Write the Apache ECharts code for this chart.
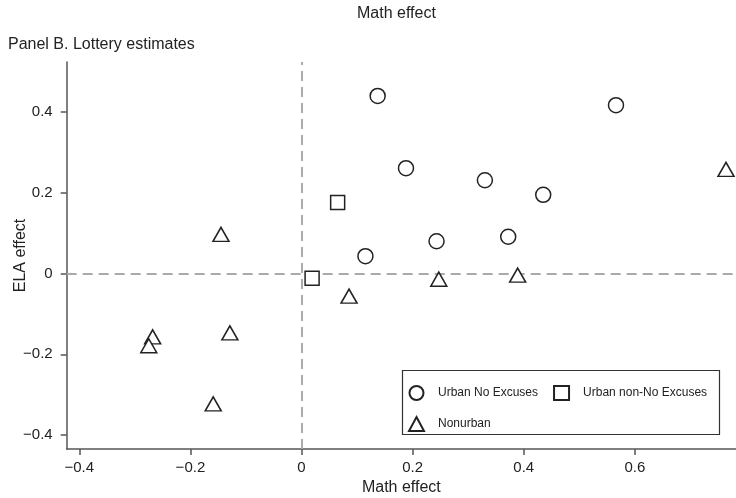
<!DOCTYPE html>
<html>
<head>
<meta charset="utf-8">
<script src="https://cdn.jsdelivr.net/npm/echarts@6/dist/echarts.min.js"></script>
<style>
  html, body { margin: 0; padding: 0; background: #fff; }
  #chart { width: 736px; height: 498px; }
</style>
</head>
<body>
<div id="chart"></div>
<script>
// Lottery estimates of school effects: math (x) vs ELA (y)
const urbanNoExcusesMath = [0.137, 0.566, 0.188, 0.330, 0.435, 0.372, 0.243, 0.115];
const urbanNoExcusesEla  = [0.440, 0.417, 0.261, 0.231, 0.195, 0.091, 0.080, 0.043];

const urbanOtherMath = [0.065, 0.019];
const urbanOtherEla  = [0.176, -0.012];

const nonurbanMath = [0.247, 0.389, 0.764, -0.145, -0.129, -0.268, -0.275, -0.159, 0.0855];
const nonurbanEla  = [-0.014, -0.004, 0.258, 0.097, -0.147, -0.157, -0.179, -0.323, -0.056];

const xTicks = [-0.4, -0.2, 0, 0.2, 0.4, 0.6];
const yTicks = [-0.4, -0.2, 0, 0.2, 0.4];

const seriesNames = ['Urban No Excuses', 'Urban non-No Excuses', 'Nonurban'];

function pairs(xs, ys) {
  return xs.map((x, i) => [x, ys[i]]);
}
function fmt(v) {
  if (v === 0) return '0';
  const s = Math.abs(v).toFixed(1);
  return (v < 0 ? '\u2212' : '') + s;
}

const FONT = '"Liberation Sans", Arial, Helvetica, sans-serif';
const INK = '#222';
const AXIS = '#555';

const markerStyle = {
  color: '#fff',
  borderColor: INK,
  borderWidth: 1.5,
  opacity: 1
};

const chart = echarts.init(document.getElementById('chart'), null, { renderer: 'canvas' });

chart.setOption({
  animation: false,
  backgroundColor: '#fff',
  textStyle: { fontFamily: FONT, color: INK },
  title: [
    {
      text: 'Math effect',
      left: 357, top: 6, padding: 0,
      textStyle: { fontSize: 16, fontWeight: 'normal', color: INK, fontFamily: FONT }
    },
    {
      text: 'Panel B. Lottery estimates',
      left: 8, top: 37, padding: 0,
      textStyle: { fontSize: 16, fontWeight: 'normal', color: INK, fontFamily: FONT }
    }
  ],
  grid: { left: 66.7, right: 0, top: 62, bottom: 49, containLabel: false, outerBoundsMode: 'none' },
  xAxis: {
    type: 'value',
    min: -0.4227, max: 0.782,
    name: 'Math effect',
    nameLocation: 'middle',
    nameGap: 31,
    nameMoveOverlap: false,
    nameTextStyle: { fontSize: 16, color: INK, fontFamily: FONT },
    axisLine: { show: true, onZero: false, lineStyle: { color: AXIS, width: 1.5 } },
    axisTick: { show: true, length: 6, customValues: xTicks, lineStyle: { color: AXIS, width: 1.5 } },
    axisLabel: { customValues: xTicks, formatter: fmt, fontSize: 15, color: INK, margin: 11, fontFamily: FONT },
    splitLine: { show: false }
  },
  yAxis: {
    type: 'value',
    min: -0.4347, max: 0.524,
    name: 'ELA effect',
    nameLocation: 'middle',
    nameGap: 38,
    nameMoveOverlap: false,
    nameTextStyle: { fontSize: 16, color: INK, fontFamily: FONT },
    axisLine: { show: true, onZero: false, lineStyle: { color: AXIS, width: 1.5 } },
    axisTick: { show: true, length: 6, customValues: yTicks, lineStyle: { color: AXIS, width: 1.5 } },
    axisLabel: { customValues: yTicks, formatter: fmt, fontSize: 15, color: INK, margin: 14, fontFamily: FONT },
    splitLine: { show: false }
  },
  legend: {
    left: 408, top: 385,
    width: 305,
    padding: 0,
    itemGap: 15,
    itemWidth: 15,
    itemHeight: 14,
    textStyle: { fontSize: 12, color: INK, fontFamily: FONT, lineHeight: 14, padding: [0, 0, 0, 9] },
    data: seriesNames
  },
  graphic: [
    {
      type: 'rect',
      z: 3,
      shape: { x: 402.5, y: 370.5, width: 317, height: 64 },
      style: { fill: '#fff', stroke: '#333', lineWidth: 1.2 }
    }
  ],
  series: [
    {
      name: seriesNames[0],
      type: 'scatter',
      symbol: 'circle',
      symbolSize: 15,
      itemStyle: markerStyle,
      data: pairs(urbanNoExcusesMath, urbanNoExcusesEla),
      z: 3,
      markLine: {
        silent: true,
        symbol: 'none',
        z: 1,
        label: { show: false },
        lineStyle: { color: '#aaa', width: 2, type: [10, 6] },
        data: [{ xAxis: 0 }, { yAxis: 0 }]
      }
    },
    {
      name: seriesNames[1],
      type: 'scatter',
      symbol: 'rect',
      symbolSize: 14,
      itemStyle: markerStyle,
      data: pairs(urbanOtherMath, urbanOtherEla),
      z: 3
    },
    {
      name: seriesNames[2],
      type: 'scatter',
      symbol: 'triangle',
      symbolSize: [16, 14],
      itemStyle: markerStyle,
      data: pairs(nonurbanMath, nonurbanEla),
      z: 3
    }
  ]
});
</script>
</body>
</html>
